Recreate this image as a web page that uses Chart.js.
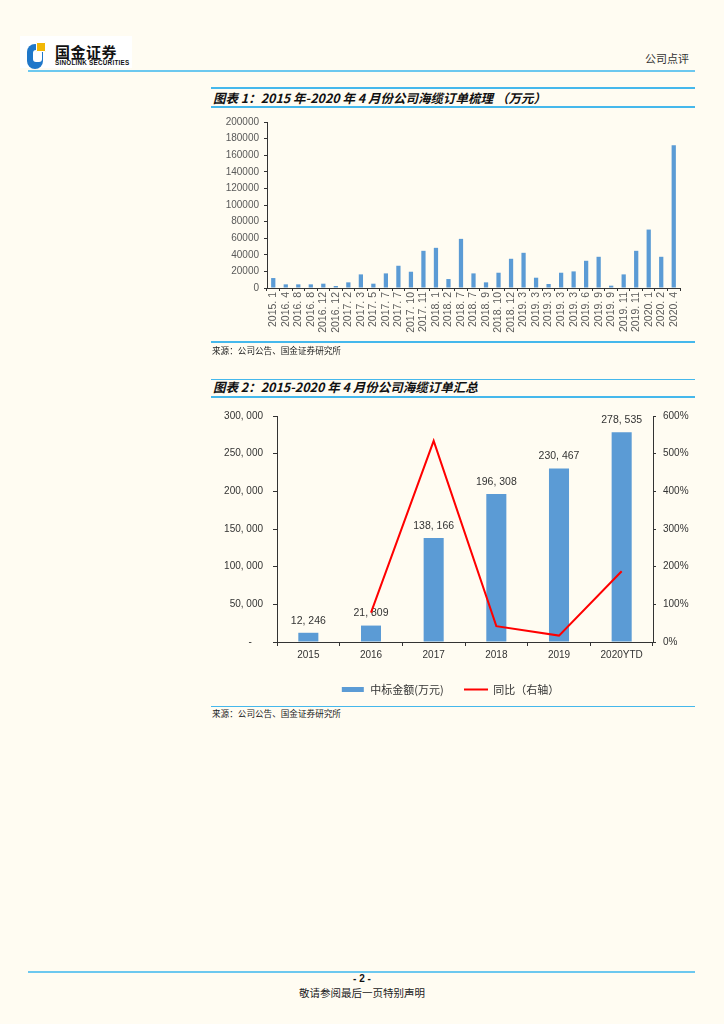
<!DOCTYPE html>
<html><head><meta charset="utf-8">
<script src="https://cdn.jsdelivr.net/npm/chart.js@4.4.0/dist/chart.umd.min.js"></script>
<style>
html,body{margin:0;padding:0;background:#FFFCF2;}
body{width:724px;height:1024px;position:relative;overflow:hidden;font-family:"Noto Sans CJK SC",sans-serif;}
.ln{position:absolute;background:#45B8EC;}
.t{position:absolute;white-space:nowrap;}
.title{left:213px;font-size:12.5px;font-weight:bold;font-style:italic;color:#111;line-height:14px;}
.src{left:212px;font-size:8.6px;color:#222;line-height:10px;}
canvas{position:absolute;}
</style></head>
<body>
<div class="t" style="left:20px;top:36px;width:112px;height:32px;background:#fff;"></div>
<div class="t" style="left:27px;top:44px;width:16px;height:25px;background:#1F77C9;border-radius:8px;"></div>
<div class="t" style="left:33px;top:50px;width:9px;height:12px;background:#fff;border-radius:3px;"></div>
<div class="t" style="left:36px;top:42px;width:8px;height:8px;background:#F2B705;border:1px solid #fff;border-radius:1px;"></div>
<div class="t" style="left:55px;top:44px;font-size:15px;font-weight:bold;color:#111;line-height:16px;letter-spacing:0.5px;">国金证券</div>
<div class="t" style="left:55px;top:59px;font-size:6.3px;font-weight:bold;color:#111;line-height:7px;letter-spacing:0.25px;font-family:'Liberation Sans',sans-serif;">SINOLINK SECURITIES</div>
<div class="t" style="left:645px;top:51px;font-size:11px;color:#333;line-height:14px;">公司点评</div>
<div class="ln" style="left:28px;top:69.5px;width:667px;height:2px;background:#6CC8EF;"></div>

<div class="ln" style="left:211px;top:87px;width:484px;height:1.5px;"></div>
<div class="t title" style="top:91px;">图表 1：2015 年-2020 年 4 月份公司海缆订单梳理 （万元）</div>
<div class="ln" style="left:211px;top:106px;width:484px;height:1.5px;"></div>
<canvas id="c1" width="500" height="235" style="left:200px;top:110px;"></canvas>
<div class="ln" style="left:211px;top:341px;width:484px;height:1.5px;"></div>
<div class="t src" style="top:345px;">来源：公司公告、国金证券研究所</div>

<div class="ln" style="left:211px;top:378.5px;width:484px;height:1.5px;"></div>
<div class="t title" style="top:380px;">图表 2：2015-2020 年 4 月份公司海缆订单汇总</div>
<div class="ln" style="left:211px;top:396px;width:484px;height:1.5px;"></div>
<canvas id="c2" width="500" height="305" style="left:200px;top:400px;"></canvas>
<div class="ln" style="left:211px;top:705.5px;width:484px;height:1.5px;"></div>
<div class="t src" style="top:708px;">来源：公司公告、国金证券研究所</div>

<div class="ln" style="left:28px;top:971px;width:667px;height:2px;background:#6CC8EF;"></div>
<div class="t" style="left:0;width:724px;text-align:center;top:973px;font-size:10px;font-weight:bold;line-height:12px;font-family:'Liberation Sans',sans-serif;color:#111;">- 2 -</div>
<div class="t" style="left:0;width:724px;text-align:center;top:986px;font-size:10.5px;line-height:14px;color:#222;">敬请参阅最后一页特别声明</div>

<script>
// ---- Chart 1 data ----
const orderMonths = ["2015. 1","2016. 4","2016. 8","2016. 8","2016. 12","2016. 12","2017. 2","2017. 3","2017. 5","2017. 7","2017. 7","2017. 10","2017. 11","2018. 1","2018. 2","2018. 7","2018. 7","2018. 9","2018. 10","2018. 12","2019. 3","2019. 3","2019. 3","2019. 3","2019. 3","2019. 6","2019. 9","2019. 9","2019. 11","2019. 11","2020. 1","2020. 2","2020. 4"];
const orderValues = [12000,4400,4400,4400,5200,2400,6800,16400,5200,17600,26800,19600,44800,48400,10800,59200,17600,6800,18400,35200,42400,12400,4800,18400,20000,32800,37600,2800,16400,44800,70400,37600,172000];
const axis1Max = 200000, axis1Step = 20000;

// ---- Chart 2 data ----
const years = ["2015","2016","2017","2018","2019","2020YTD"];
const winAmount = [12246,21809,138166,196308,230467,278535];
const yoyPct = [null,78,534,42,17,188];
const axis2LeftMax = 300000, axis2LeftStep = 50000;
const axis2RightMax = 600, axis2RightStep = 100;
const legendNames = ["中标金额(万元)","同比（右轴）"];

const BLUE = '#5B9BD5';
const RED = '#FF0000';
const AX = '#333333';
const numFont = 'Liberation Sans';

new Chart(document.getElementById('c1'), {
  type: 'bar',
  data: { labels: orderMonths, datasets: [{ data: orderValues, backgroundColor: BLUE, barPercentage: 0.34, categoryPercentage: 1 }] },
  options: {
    responsive: false, animation: false,
    layout: { padding: { top: 12, right: 20, left: 0, bottom: 0 } },
    plugins: { legend: { display: false }, tooltip: { enabled: false } },
    scales: {
      x: {
        ticks: { minRotation: 90, maxRotation: 90, autoSkip: false, color: '#595959', font: { size: 10.5, family: numFont }, padding: 1 },
        grid: { drawOnChartArea: false, tickLength: 3, color: AX, offset: true },
        border: { color: AX, width: 1 },
        afterFit(s) { s.height = 57; }
      },
      y: {
        min: 0, max: axis1Max,
        ticks: { stepSize: axis1Step, color: '#595959', font: { size: 10, family: numFont }, padding: 5, callback: v => String(v) },
        grid: { drawOnChartArea: false, tickLength: 3, color: AX },
        border: { color: AX, width: 1 },
        afterFit(s) { s.width = 67; }
      }
    }
  }
});

function legendImg(color, h) {
  const c = document.createElement('canvas');
  c.width = 24; c.height = 5;
  const x = c.getContext('2d');
  x.fillStyle = color;
  x.fillRect(color === BLUE ? 1 : 0, (5 - h) / 2, color === BLUE ? 22 : 24, h);
  return c;
}
const imgs = [legendImg(BLUE, 5), legendImg(RED, 2)];

const fmt = v => v.toLocaleString('en-US').replace(/,/g, ', ');

const barLabels = {
  id: 'barLabels',
  afterDatasetDraw(chart, args) {
    if (args.index !== 0) return;
    const ctx = chart.ctx;
    ctx.save();
    ctx.font = '10.5px "' + numFont + '"';
    ctx.fillStyle = '#333';
    ctx.textAlign = 'center';
    ctx.textBaseline = 'middle';
    args.meta.data.forEach((bar, i) => {
      ctx.fillText(fmt(winAmount[i]), bar.x, bar.y - 12);
    });
    ctx.restore();
  }
};

new Chart(document.getElementById('c2'), {
  type: 'bar',
  data: {
    labels: years,
    datasets: [
      { type: 'bar', label: legendNames[0], data: winAmount, backgroundColor: BLUE, barPercentage: 0.32, categoryPercentage: 1, yAxisID: 'y', order: 1 },
      { type: 'line', label: legendNames[1], data: yoyPct, borderColor: RED, borderWidth: 2, pointRadius: 0, tension: 0, yAxisID: 'y1', order: 0, spanGaps: false }
    ]
  },
  options: {
    responsive: false, animation: false,
    layout: { padding: { top: 15, right: 0, left: 0, bottom: 0 } },
    plugins: {
      tooltip: { enabled: false },
      legend: {
        position: 'bottom',
        labels: {
          usePointStyle: true, pointStyleWidth: 24, boxHeight: 5, padding: 20,
          color: '#333', font: { size: 11, family: 'Noto Sans CJK SC' },
          generateLabels(chart) {
            return chart.data.datasets.map((ds, i) => ({
              text: ds.label, pointStyle: imgs[i], fillStyle: i ? RED : BLUE, strokeStyle: i ? RED : BLUE,
              lineWidth: 0, hidden: false, datasetIndex: i, fontColor: '#333'
            }));
          }
        }
      }
    },
    scales: {
      x: {
        ticks: { color: '#333', font: { size: 10, family: numFont }, padding: 3 },
        grid: { drawOnChartArea: false, tickLength: 4, color: AX, offset: true },
        border: { color: AX, width: 1 },
        afterFit(s) { s.height = 22; }
      },
      y: {
        position: 'left', min: 0, max: axis2LeftMax,
        ticks: { stepSize: axis2LeftStep, color: '#333', font: { size: 10, family: numFont }, padding: 10,
                 callback: v => v === 0 ? '-    ' : fmt(v) },
        grid: { drawOnChartArea: false, tickLength: 4, color: AX },
        border: { color: AX, width: 1 },
        afterFit(s) { s.width = 77; }
      },
      y1: {
        position: 'right', min: 0, max: axis2RightMax,
        ticks: { stepSize: axis2RightStep, color: '#333', font: { size: 10, family: numFont }, padding: 7, callback: v => v + '%' },
        grid: { drawOnChartArea: false, tickLength: 3, color: AX },
        border: { color: AX, width: 1 },
        afterFit(s) { s.width = 47; }
      }
    }
  },
  plugins: [barLabels]
});
</script>
</body></html>
